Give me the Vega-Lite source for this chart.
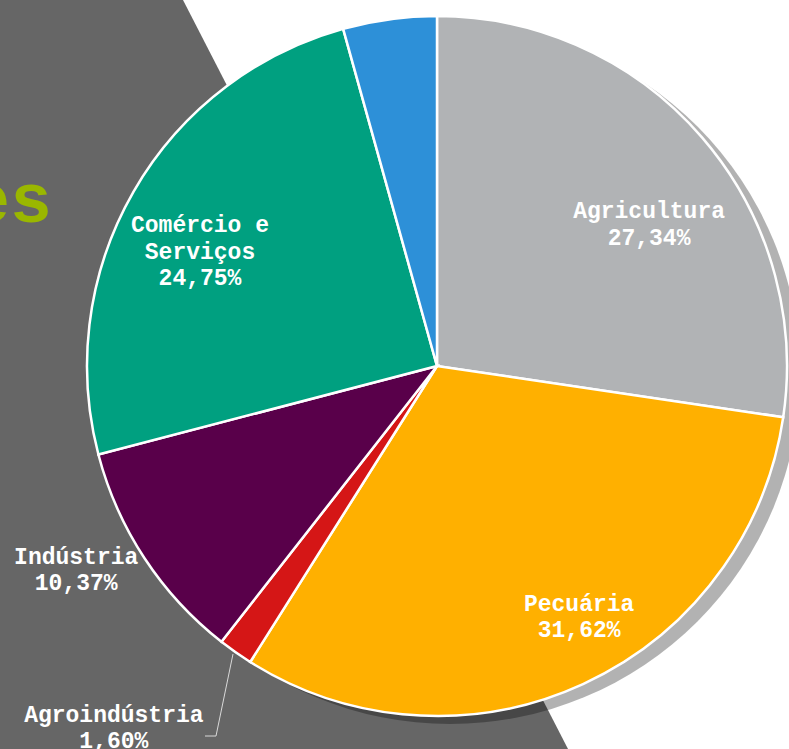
{
  "$schema": "https://vega.github.io/schema/vega-lite/v6.json",
  "width": 789,
  "height": 749,
  "padding": 0,
  "autosize": {"type": "none"},
  "background": "white",
  "config": {"view": {"stroke": null}},
  "datasets": {
    "setores": [
      {"ordem": 1, "setor": "Agricultura", "valor": 27.34, "rotulo": "Agricultura\n27,34%"},
      {"ordem": 2, "setor": "Pecuária", "valor": 31.62, "rotulo": "Pecuária\n31,62%"},
      {"ordem": 3, "setor": "Agroindústria", "valor": 1.60, "rotulo": "Agroindústria\n1,60%"},
      {"ordem": 4, "setor": "Indústria", "valor": 10.37, "rotulo": "Indústria\n10,37%"},
      {"ordem": 5, "setor": "Comércio e Serviços", "valor": 24.75, "rotulo": "Comércio e\nServiços\n24,75%"},
      {"ordem": 6, "setor": "Outros", "valor": 4.32, "rotulo": ""}
    ],
    "fundo": [
      {"py": 0, "px": 183},
      {"py": 749, "px": 568}
    ]
  },
  "data": {"name": "setores"},
  "layer": [
    {
      "data": {"name": "fundo"},
      "mark": {"type": "area", "orient": "horizontal", "fill": "#666666"},
      "encoding": {
        "y": {"field": "py", "type": "quantitative", "scale": {"domain": [0, 749], "reverse": true, "nice": false, "zero": false}, "axis": null},
        "x": {"field": "px", "type": "quantitative", "scale": {"domain": [0, 789], "nice": false, "zero": false}, "axis": null},
        "x2": {"datum": 0}
      }
    },
    {
      "data": {"values": [{}]},
      "mark": {"type": "text", "text": "es", "font": "Liberation Mono", "fontWeight": "bold", "fontSize": 70, "fill": "#9ab700", "align": "right", "baseline": "alphabetic"},
      "encoding": {
        "x": {"datum": 52, "type": "quantitative", "axis": null},
        "y": {"datum": 222, "type": "quantitative", "axis": null}
      }
    },
    {
      "data": {"values": [{}]},
      "mark": {"type": "arc", "radius": 350, "fill": "#000000", "fillOpacity": 0.3},
      "encoding": {
        "x": {"datum": 450, "type": "quantitative", "axis": null},
        "y": {"datum": 374, "type": "quantitative", "axis": null}
      }
    },
    {
      "mark": {"type": "arc", "radius": 350, "stroke": "white", "strokeWidth": 2.5},
      "encoding": {
        "x": {"datum": 437, "type": "quantitative", "axis": null},
        "y": {"datum": 366, "type": "quantitative", "axis": null},
        "theta": {"field": "valor", "type": "quantitative", "stack": true},
        "order": {"field": "ordem", "type": "quantitative"},
        "color": {
          "field": "setor", "type": "nominal", "legend": null,
          "scale": {
            "domain": ["Agricultura", "Pecuária", "Agroindústria", "Indústria", "Comércio e Serviços", "Outros"],
            "range": ["#b1b3b5", "#ffb000", "#d51616", "#59004a", "#00a080", "#2d90d8"]
          }
        }
      }
    },
    {
      "mark": {"type": "text", "radius": 255, "dx": 19, "dy": 12, "font": "Liberation Mono", "fontWeight": "bold", "fontSize": 23, "fill": "white", "lineBreak": "\n", "lineHeight": 26.5, "align": "center", "baseline": "middle"},
      "encoding": {
        "x": {"datum": 437, "type": "quantitative", "axis": null},
        "y": {"datum": 366, "type": "quantitative", "axis": null},
        "theta": {"field": "valor", "type": "quantitative", "stack": true},
        "order": {"field": "ordem", "type": "quantitative"},
        "text": {"condition": {"test": "datum.setor === 'Agricultura'", "field": "rotulo"}, "value": ""}
      }
    },
    {
      "mark": {"type": "text", "radius": 288, "dx": 22, "dy": -24, "font": "Liberation Mono", "fontWeight": "bold", "fontSize": 23, "fill": "white", "lineBreak": "\n", "lineHeight": 26.5, "align": "center", "baseline": "middle"},
      "encoding": {
        "x": {"datum": 437, "type": "quantitative", "axis": null},
        "y": {"datum": 366, "type": "quantitative", "axis": null},
        "theta": {"field": "valor", "type": "quantitative", "stack": true},
        "order": {"field": "ordem", "type": "quantitative"},
        "text": {"condition": {"test": "datum.setor === 'Pecuária'", "field": "rotulo"}, "value": ""}
      }
    },
    {
      "mark": {"type": "text", "radius": 263, "dx": -9, "dy": -9.5, "font": "Liberation Mono", "fontWeight": "bold", "fontSize": 23, "fill": "white", "lineBreak": "\n", "lineHeight": 26.5, "align": "center", "baseline": "middle"},
      "encoding": {
        "x": {"datum": 437, "type": "quantitative", "axis": null},
        "y": {"datum": 366, "type": "quantitative", "axis": null},
        "theta": {"field": "valor", "type": "quantitative", "stack": true},
        "order": {"field": "ordem", "type": "quantitative"},
        "text": {"condition": {"test": "datum.setor === 'Comércio e Serviços'", "field": "rotulo"}, "value": ""}
      }
    },
    {
      "mark": {"type": "text", "radius": 415, "dx": -14, "dy": -37, "font": "Liberation Mono", "fontWeight": "bold", "fontSize": 23, "fill": "white", "lineBreak": "\n", "lineHeight": 26.5, "align": "center", "baseline": "middle"},
      "encoding": {
        "x": {"datum": 437, "type": "quantitative", "axis": null},
        "y": {"datum": 366, "type": "quantitative", "axis": null},
        "theta": {"field": "valor", "type": "quantitative", "stack": true},
        "order": {"field": "ordem", "type": "quantitative"},
        "text": {"condition": {"test": "datum.setor === 'Indústria'", "field": "rotulo"}, "value": ""}
      }
    },
    {
      "mark": {"type": "text", "radius": 485, "dx": -44, "dy": -48, "font": "Liberation Mono", "fontWeight": "bold", "fontSize": 23, "fill": "white", "lineBreak": "\n", "lineHeight": 26.5, "align": "center", "baseline": "middle"},
      "encoding": {
        "x": {"datum": 437, "type": "quantitative", "axis": null},
        "y": {"datum": 366, "type": "quantitative", "axis": null},
        "theta": {"field": "valor", "type": "quantitative", "stack": true},
        "order": {"field": "ordem", "type": "quantitative"},
        "text": {"condition": {"test": "datum.setor === 'Agroindústria'", "field": "rotulo"}, "value": ""}
      }
    },
    {
      "data": {"values": [{}]},
      "mark": {"type": "rule", "stroke": "#d9d9d9", "strokeWidth": 1},
      "encoding": {
        "x": {"datum": 233, "type": "quantitative", "axis": null},
        "y": {"datum": 654, "type": "quantitative", "axis": null},
        "x2": {"datum": 216},
        "y2": {"datum": 736}
      }
    },
    {
      "data": {"values": [{}]},
      "mark": {"type": "rule", "stroke": "#d9d9d9", "strokeWidth": 1},
      "encoding": {
        "x": {"datum": 216, "type": "quantitative", "axis": null},
        "y": {"datum": 736, "type": "quantitative", "axis": null},
        "x2": {"datum": 205},
        "y2": {"datum": 736}
      }
    }
  ]
}
